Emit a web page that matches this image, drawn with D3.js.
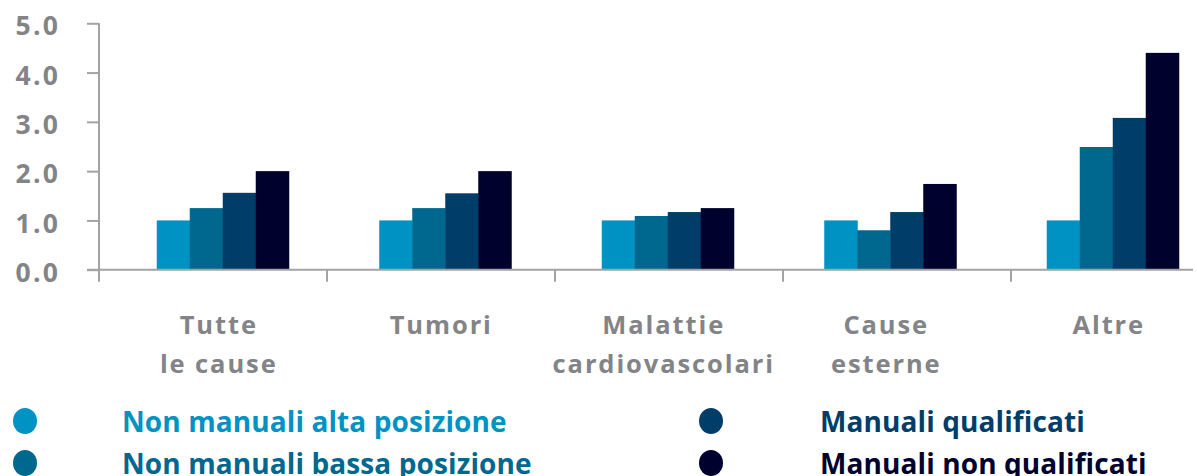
<!DOCTYPE html>
<html>
<head>
<meta charset="utf-8">
<script src="https://cdn.jsdelivr.net/npm/d3@7"></script>
<style>
  html, body { margin: 0; padding: 0; background: #fff; }
  svg { display: block; }
  text { font-family: "Open Sans", sans-serif; font-weight: 700; }
</style>
</head>
<body>
<div id="chart"></div>
<script>
// Dati
const categories = [["Tutte", "le cause"], ["Tumori"], ["Malattie", "cardiovascolari"], ["Cause", "esterne"], ["Altre"]];
const seriesNames = ["Non manuali alta posizione", "Non manuali bassa posizione", "Manuali qualificati", "Manuali non qualificati"];
const altaPosizione = [1.0, 1.0, 1.0, 1.0, 1.0];
const bassaPosizione = [1.25, 1.25, 1.09, 0.8, 2.49];
const qualificati = [1.56, 1.55, 1.17, 1.17, 3.08];
const nonQualificati = [2.0, 2.0, 1.25, 1.74, 4.4];
const yTicks = [0, 1, 2, 3, 4, 5];

const ChartApp = (() => {
    const config = {
        width: 1197,
        height: 476,
        axisX: 99,
        zeroY: 269.7,
        topY: 23.3,
        colors: ["#0092c2", "#00678f", "#003e69", "#00022e"],
        gray: "#838488",
        lineGray: "#a3a3a6",
        fontSize: 25
    };

    const series = [altaPosizione, bassaPosizione, qualificati, nonQualificati];
    const keys = categories.map(c => c.join(" "));

    function init() {
        const svg = d3.select("#chart").append("svg")
            .attr("width", config.width)
            .attr("height", config.height);

        // Scale
        const y = d3.scaleLinear().domain([0, 5]).range([config.zeroY, config.topY]);
        const xAxisBand = d3.scaleBand().domain(keys).range([config.axisX, config.axisX + 228 * keys.length]);
        const xGroup = d3.scalePoint().domain(keys).range([222.75, 1112.75]);
        const xInner = d3.scaleBand().domain(d3.range(series.length)).range([-66, 66]);

        // Asse y
        const yAxis = svg.append("g")
            .attr("transform", `translate(${config.axisX},0)`)
            .call(d3.axisLeft(y).tickValues(yTicks).tickFormat(d3.format(".1f")).tickSize(12).tickPadding(27));
        yAxis.select(".domain").remove();
        yAxis.selectAll("line").attr("stroke", config.lineGray).attr("stroke-width", 2);
        yAxis.selectAll("text")
            .attr("fill", config.gray)
            .attr("font-size", 26.5)
            .attr("font-family", "'Open Sans', sans-serif")
            .attr("font-weight", 700)
            .attr("letter-spacing", 2.2)
            .attr("dy", "0.44em");

        svg.append("line")
            .attr("x1", config.axisX).attr("x2", config.axisX)
            .attr("y1", y(5)).attr("y2", config.zeroY + 12)
            .attr("stroke", config.lineGray).attr("stroke-width", 2);

        // Barre
        const groups = svg.append("g").selectAll("g")
            .data(keys)
            .join("g")
            .attr("transform", d => `translate(${xGroup(d)},0)`);

        groups.selectAll("rect")
            .data((_, ci) => series.map((s, si) => ({ si, v: s[ci] })))
            .join("rect")
            .attr("x", d => xInner(d.si))
            .attr("width", xInner.bandwidth() + 0.5)
            .attr("y", d => y(d.v))
            .attr("height", d => y(0) - y(d.v))
            .attr("fill", d => config.colors[d.si]);

        // Asse x
        svg.append("line")
            .attr("x1", config.axisX - 12).attr("x2", 1193)
            .attr("y1", y(0)).attr("y2", y(0))
            .attr("stroke", config.lineGray).attr("stroke-width", 2);

        svg.append("g").selectAll("line")
            .data(keys.slice(1))
            .join("line")
            .attr("x1", d => xAxisBand(d)).attr("x2", d => xAxisBand(d))
            .attr("y1", y(0)).attr("y2", y(0) + 12)
            .attr("stroke", config.lineGray).attr("stroke-width", 2);

        // Etichette categorie
        svg.append("g").selectAll("text")
            .data(categories)
            .join("text")
            .attr("x", (_, i) => xGroup(keys[i]) - 4)
            .attr("y", 334)
            .attr("text-anchor", "middle")
            .attr("fill", config.gray)
            .attr("font-size", config.fontSize + 0.5)
            .attr("letter-spacing", 1.9)
            .selectAll("tspan")
            .data(d => d)
            .join("tspan")
            .attr("x", function () { return d3.select(this.parentNode).attr("x"); })
            .attr("dy", (_, i) => i === 0 ? 0 : 38.5)
            .text(d => d);

        // Legenda
        const legend = svg.append("g").selectAll("g")
            .data(seriesNames)
            .join("g")
            .attr("transform", (_, i) => `translate(${i < 2 ? 0 : 686},${(i % 2) * 42})`);

        legend.append("ellipse")
            .attr("cx", 25).attr("cy", 421)
            .attr("rx", 12).attr("ry", 13)
            .attr("fill", (_, i) => config.colors[i]);

        legend.append("text")
            .attr("x", (_, i) => i < 2 ? 122 : 134)
            .attr("y", 431.5)
            .attr("font-size", 28)
            .attr("letter-spacing", 0.1)
            .attr("fill", (_, i) => config.colors[i])
            .text(d => d);
    }

    return { init };
})();

document.addEventListener("DOMContentLoaded", ChartApp.init);
</script>
</body>
</html>
